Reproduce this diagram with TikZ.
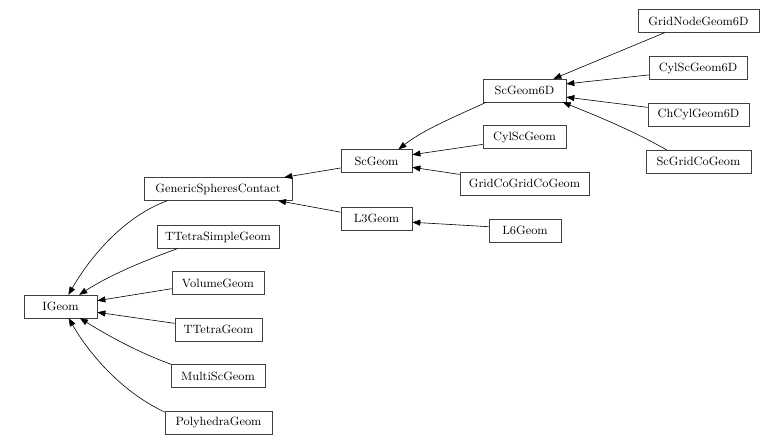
\documentclass[tikz,border=0pt]{standalone}
\usepackage{tikz}
\usetikzlibrary{arrows.meta}

\tikzset{
  cls/.style={rectangle, draw=black!75, line width=0.5pt, minimum height=17pt,
    inner sep=0pt, font=\fontsize{9}{10}\selectfont},
  inh/.style={line width=0.45pt, -{Triangle[length=6pt,width=4.5pt]}}
}

\begin{document}
\begin{tikzpicture}[x=0.75pt, y=-0.75pt]
  \useasboundingbox (0,0) rectangle (784,444);

  \foreach \nm/\x/\y/\w/\txt in {igeom/60.5/306.5/73/IGeom,
    gsc/218/189/148/GenericSpheresContact, ttsg/218/237/122/TTetraSimpleGeom,
    volume/218/283/92/VolumeGeom, ttetra/218.5/329.5/87/TTetraGeom,
    multisc/218/376/94/MultiScGeom, polyhedra/218.5/422.5/107/PolyhedraGeom,
    scgeom/376.5/161/71/ScGeom, lthree/376.5/218.5/71/L3Geom,
    scsix/524.5/90.5/83/ScGeom6D, cylsc/524.5/137/83/CylScGeom,
    gridco/524.5/183.5/129/GridCoGridCoGeom, lsix/525/230.5/72/L6Geom,
    gridnode/698.5/21/121/GridNodeGeom6D, cylscsix/698/68/98/CylScGeom6D,
    chcyl/698.5/114.5/101/ChCylGeom6D, scgridco/698.5/161.5/105/ScGridCoGeom}{
  \node[cls, minimum width=\w*0.75pt] (\nm) at (\x,\y) {\txt}; }

  % straight inheritance edges
  \foreach \chld/\ca/\prnt/\pa in {volume/187/igeom/9, ttetra/172/igeom/-9,
    scgeom/191/gsc/10, lthree/170/gsc/-11, cylsc/190/scgeom/10,
    gridco/172/scgeom/-10, lsix/174/lthree/-6, gridnode/199/scsix/22,
    cylscsix/188/scsix/9, chcyl/172/scsix/-9}%
  {%
   \draw[inh] (\chld.\ca) -- (\prnt.\pa);%
  }

  % curved ones
  \foreach \chld/\ca/\prnt/\pa/\o/\i in {gsc/193/igeom/56/200/60,
    ttsg/196/igeom/32/200/33, multisc/166/igeom/-31/160/-32,
    polyhedra/169/igeom/-55/155/-60, scsix/197/scgeom/28/205/38,
    scgridco/160/scsix/-17/150/-22}%
  {%
   \draw[inh] (\chld.\ca) to[out=\o, in=\i, looseness=0.85] (\prnt.\pa);%
  }

\end{tikzpicture}
\end{document}
